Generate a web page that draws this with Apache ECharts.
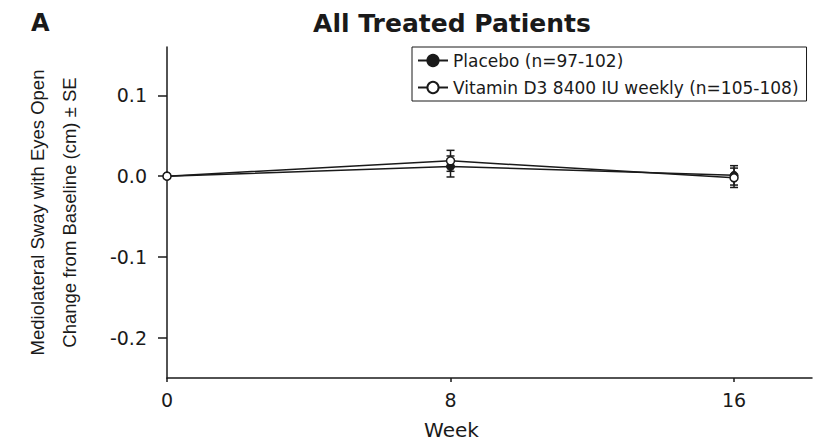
<!DOCTYPE html>
<html><head><meta charset="utf-8">
<script src="https://cdn.jsdelivr.net/npm/echarts@6/dist/echarts.min.js"></script>
<style>html,body{margin:0;padding:0;background:#fff}#c{width:823px;height:445px}</style>
</head><body><div id="c"></div>
<script>
const weeks = [0, 8, 16];
const placeboMean = [0, 0.012, 0.001];
const placeboSE = [0, 0.013, 0.012];
const vitdMean = [0, 0.019, -0.002];
const vitdSE = [0, 0.013, 0.012];
const yTicks = [-0.2, -0.1, 0.0, 0.1];
const xTicks = [0, 8, 16];
const placeboName = 'Placebo (n=97-102)';
const vitdName = 'Vitamin D3 8400 IU weekly (n=105-108)';

const INK = '#1a1a1a';
const FONT = 'DejaVu Sans';

function errSeries(name, mean, se) {
  const data = [];
  weeks.forEach((w, i) => { if (se[i] > 0) data.push([w, mean[i] - se[i], mean[i] + se[i]]); });
  return {
    type: 'custom', name: name + ' SE', silent: true, z: 1,
    data: data,
    encode: { x: 0, y: [1, 2] },
    renderItem(params, api) {
      const x = api.value(0);
      const lo = api.coord([x, api.value(1)]);
      const hi = api.coord([x, api.value(2)]);
      const w = 4;
      const style = { stroke: INK, lineWidth: 1.5 };
      return { type: 'group', children: [
        { type: 'line', shape: { x1: lo[0], y1: lo[1], x2: hi[0], y2: hi[1] }, style },
        { type: 'line', shape: { x1: lo[0] - w, y1: lo[1], x2: lo[0] + w, y2: lo[1] }, style },
        { type: 'line', shape: { x1: hi[0] - w, y1: hi[1], x2: hi[0] + w, y2: hi[1] }, style }
      ]};
    }
  };
}

const chart = echarts.init(document.getElementById('c'), null, { renderer: 'svg' });
chart.setOption({
  animation: false,
  backgroundColor: '#fff',
  title: [
    { text: 'All Treated Patients', left: 447, top: 6, textAlign: 'center',
      textStyle: { fontFamily: FONT, fontWeight: 'bold', fontSize: 25, color: INK } },
    { text: 'A', left: 26, top: 6,
      textStyle: { fontFamily: FONT, fontWeight: 'bold', fontSize: 24, color: INK } }
  ],
  legend: {
    data: [placeboName, vitdName],
    orient: 'vertical', left: 412, top: 47,
    padding: [5, 8, 5, 5], itemGap: 10, itemWidth: 30, itemHeight: 14,
    borderColor: INK, borderWidth: 1, borderRadius: 0,
    textStyle: { fontFamily: FONT, fontSize: 17, color: INK, lineHeight: 14 }
  },
  grid: { left: 167, top: 47, right: 11, bottom: 61, containLabel: false },
  xAxis: {
    type: 'value', min: 0, max: 18.2,
    name: 'Week', nameLocation: 'middle', nameGap: 42,
    nameTextStyle: { fontFamily: FONT, fontSize: 20, color: INK, padding: [0, 76, 0, 0] },
    axisLine: { show: true, onZero: false, lineStyle: { color: INK, width: 1.5 } },
    axisTick: { show: true, customValues: xTicks, length: 4, lineStyle: { color: INK, width: 1.5 } },
    axisLabel: { customValues: xTicks, fontFamily: FONT, fontSize: 19, color: INK, margin: 12 },
    splitLine: { show: false }
  },
  yAxis: {
    type: 'value', min: -0.25, max: 0.16,
    name: 'Mediolateral Sway with Eyes Open\nChange from Baseline (cm) \u00b1 SE',
    nameLocation: 'middle', nameGap: 82, nameRotate: 90,
    nameTextStyle: { fontFamily: 'Liberation Sans', fontSize: 18.5, color: INK, lineHeight: 32, align: 'center' },
    axisLine: { show: true, onZero: false, lineStyle: { color: INK, width: 1.5 } },
    axisTick: { show: true, customValues: yTicks, length: 9, lineStyle: { color: INK, width: 1.5 } },
    axisLabel: { customValues: yTicks, fontFamily: FONT, fontSize: 19, color: INK, margin: 20,
      formatter: v => v.toFixed(1) },
    splitLine: { show: false }
  },
  series: [
    errSeries(placeboName, placeboMean, placeboSE),
    errSeries(vitdName, vitdMean, vitdSE),
    { type: 'line', name: placeboName, z: 3,
      data: weeks.map((w, i) => [w, placeboMean[i]]),
      symbol: 'circle', symbolSize: 8,
      lineStyle: { color: INK, width: 1.5 },
      itemStyle: { color: INK, borderColor: INK, borderWidth: 1 } },
    { type: 'line', name: vitdName, z: 4,
      data: weeks.map((w, i) => [w, vitdMean[i]]),
      symbol: 'circle', symbolSize: 8,
      lineStyle: { color: INK, width: 1.5 },
      itemStyle: { color: '#fff', borderColor: INK, borderWidth: 1.5 } }
  ]
});
</script></body></html>
